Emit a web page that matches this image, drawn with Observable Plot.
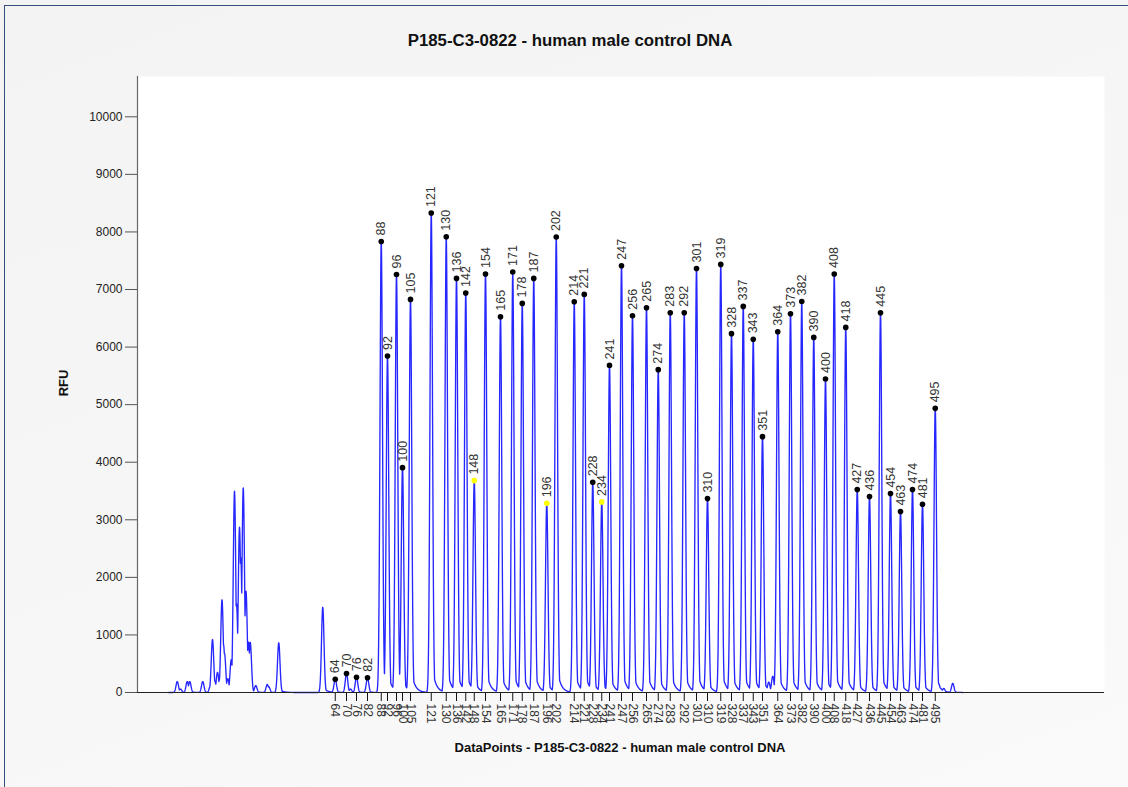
<!DOCTYPE html>
<html>
<head>
<meta charset="utf-8">
<script src="https://cdn.jsdelivr.net/npm/d3@7"></script>
<script src="https://cdn.jsdelivr.net/npm/@observablehq/plot@0.6"></script>
<style>
  html, body { margin: 0; padding: 0; }
  body {
    width: 1128px; height: 787px; overflow: hidden; position: relative;
    background: linear-gradient(160deg, #f3f3f3 0%, #f6f6f6 45%, #fafafa 100%);
    font-family: Arial, "Liberation Sans", sans-serif;
  }
  #border { position: absolute; left: 4px; top: 5px; width: 1300px; height: 900px;
    border-left: 1.5px solid #34507a; border-top: 1.5px solid #34507a; }
  #chart { position: absolute; left: 0; top: 0; }
  #title { position: absolute; left: 0; width: 1140px; top: 31px; text-align: center;
    font-weight: bold; font-size: 16.8px; color: #111; }
  #ylabel { position: absolute; left: 63px; top: 383px; transform: translate(-50%, -50%) rotate(-90deg);
    font-weight: bold; font-size: 13px; color: #111; white-space: nowrap; }
  #xlabel { position: absolute; left: 0; width: 1240px; top: 740px; text-align: center;
    font-weight: bold; font-size: 13px; color: #111; }
</style>
</head>
<body>
<div id="border"></div>
<div id="chart"></div>
<div id="title">P185-C3-0822 - human male control DNA</div>
<div id="ylabel">RFU</div>
<div id="xlabel">DataPoints - P185-C3-0822 - human male control DNA</div>
<script>
// Sized peaks (size standard fragments): bp label, data point, RFU height
const sizeLabels = [64,70,76,82,88,92,96,100,105,121,130,136,142,148,154,165,171,178,187,196,202,214,221,228,234,241,247,256,265,274,283,292,301,310,319,328,337,343,351,364,373,382,390,400,408,418,427,436,445,454,463,474,481,495];
const sizeDataPoints = [2582,2672,2752,2840,2950,3000,3072,3120,3184,3350,3470,3552,3626,3694,3784,3904,4002,4078,4170,4274,4350,4494,4574,4642,4714,4776,4872,4960,5072,5166,5262,5374,5472,5560,5666,5752,5846,5926,6000,6122,6224,6314,6410,6504,6574,6666,6758,6856,6944,7024,7104,7200,7280,7382];
const sizeRFU = [231,330,266,255,7835,5845,7262,3906,6828,8328,7917,7193,6939,3681,7269,6528,7304,6759,7193,3286,7911,6788,6915,3651,3311,5682,7413,6545,6684,5608,6597,6597,7366,3368,7436,6233,6707,6134,4444,6267,6580,6793,6168,5446,7269,6342,3524,3403,6597,3455,3142,3524,3269,4936];
const flaggedSizes = [148,196,234];

// Unlabeled peaks in the trace (primer/noise region and small artefacts)
const otherDataPoints = [1318,1344,1398,1418,1522,1584,1600,1618,1640,1658,1676,1688,1696,1722,1750,1760,1776,1792,1816,1826,1846,1868,1888,1902,1946,2038,2050,2130,2482,2704,6050,6082,7410,7450,7522];
const otherRFU = [190,60,190,190,190,120,920,200,350,240,1610,830,680,240,570,320,3495,1545,2870,2340,3553,1760,875,870,120,140,100,863,1480,60,180,283,150,70,160];

const yTicks = [0,1000,2000,3000,4000,5000,6000,7000,8000,9000,10000];
const xDomain = [1000, 8736];
const yDomain = [0, 10700];

// table of sized peaks
const sized = sizeLabels.map((s, i) => ({label: String(s), dp: sizeDataPoints[i], rfu: sizeRFU[i], flagged: flaggedSizes.includes(s)}));
const labelByDp = new Map(sized.map(d => [d.dp, d.label]));

// all peaks that make up the trace
const allPeaks = sized.map(d => ({dp: d.dp, rfu: d.rfu}))
  .concat(otherDataPoints.map((dp, i) => ({dp, rfu: otherRFU[i]})));

// render the electropherogram trace from the peak list (peak shape: narrow core + short right tail)
const sigma = 10, tau = 28, tailFrac = 0.07;
const trace = [];
for (let x = 1250; x <= 7600; x++) {
  let v = 0;
  for (const p of allPeaks) {
    const d = x - p.dp;
    if (d < -60 || d > 220) continue;
    let s = Math.exp(-0.5 * (d / sigma) ** 2);
    if (d > 0) s = Math.max(s, tailFrac * Math.exp(-d / tau));
    v = Math.max(v, p.rfu * s);
  }
  trace.push({dp: x, rfu: v});
}

const chart = Plot.plot({
  width: 1128, height: 787,
  marginLeft: 137, marginRight: 24, marginTop: 76, marginBottom: 95,
  style: {background: "transparent", fontFamily: "Arial, 'Liberation Sans', sans-serif", overflow: "visible"},
  x: {domain: xDomain},
  y: {domain: yDomain},
  marks: [
    Plot.frame({fill: "white", stroke: null}),
    Plot.ruleX([xDomain[0]], {stroke: "#666", strokeWidth: 1.2}),
    Plot.axisY({ticks: yTicks, tickSize: 12, tickPadding: 3, stroke: "#555", fill: "#222", fontSize: 12, label: null, tickFormat: d => String(d)}),
    Plot.axisX({ticks: sizeDataPoints, tickFormat: d => labelByDp.get(d), tickRotate: 90, tickSize: 9, tickPadding: 2, fontSize: 12, stroke: "#111", fill: "#333", label: null}),
    Plot.line(trace, {x: "dp", y: "rfu", stroke: "#2626ff", strokeWidth: 1.35}),
    Plot.ruleY([0], {stroke: "#222", strokeWidth: 1.2}),
    Plot.dot(sized, {x: "dp", y: "rfu", r: 2.8, fill: d => d.flagged ? "#ffff00" : "#000", stroke: null}),
    Plot.text(sized, {x: "dp", y: "rfu", text: "label", rotate: -90, textAnchor: "start", dy: -6, fontSize: 12.5, fill: "#333"})
  ]
});
document.getElementById("chart").appendChild(chart);
</script>
</body>
</html>
